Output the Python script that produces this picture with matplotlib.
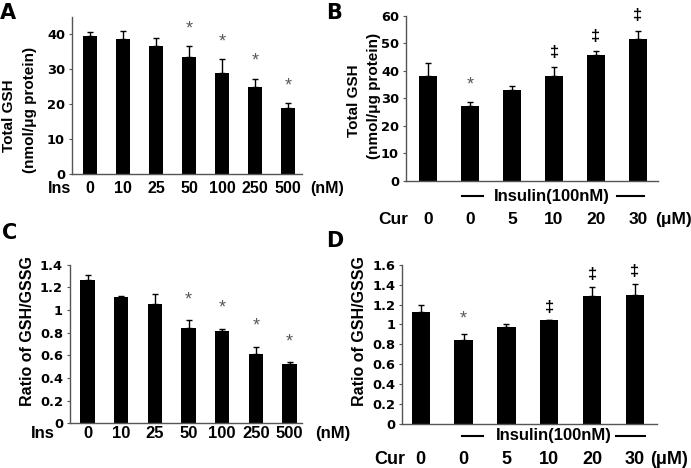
import matplotlib
matplotlib.use('Agg')
import matplotlib.pyplot as plt
import matplotlib.transforms as mtransforms
import numpy as np

# ---------------- data ----------------
a_labels = ['0', '10', '25', '50', '100', '250', '500']
a_mean = [39.6, 38.7, 36.7, 33.5, 29.0, 24.9, 19.0]
a_top = [40.7, 41.1, 38.9, 36.7, 32.9, 27.4, 20.3]
a_sig = ['', '', '', '*', '*', '*', '*']

b_labels = ['0', '0', '5', '10', '20', '30']
b_mean = [38.1, 27.1, 33.1, 38.1, 45.8, 51.4]
b_top = [42.7, 28.7, 34.6, 41.5, 47.3, 54.6]
b_sig = ['', '*', '', '\u2021', '\u2021', '\u2021']

c_labels = ['0', '10', '25', '50', '100', '250', '500']
c_mean = [1.262, 1.115, 1.056, 0.841, 0.812, 0.609, 0.526]
c_top = [1.309, 1.126, 1.144, 0.909, 0.832, 0.671, 0.538]
c_sig = ['', '', '', '*', '*', '*', '*']

d_labels = ['0', '0', '5', '10', '20', '30']
d_mean = [1.121, 0.844, 0.977, 1.041, 1.285, 1.299]
d_top = [1.198, 0.904, 1.001, 1.048, 1.372, 1.406]
d_sig = ['', '*', '', '\u2021', '\u2021', '\u2021']

ab_yticks = [0, 10, 20, 30, 40]
b_yticks = [0, 10, 20, 30, 40, 50, 60]
c_yticks = [0, 0.2, 0.4, 0.6, 0.8, 1.0, 1.2, 1.4]
d_yticks = [0, 0.2, 0.4, 0.6, 0.8, 1.0, 1.2, 1.4, 1.6]

ARIAL = 'Liberation Sans'
WIDE = 'DejaVu Sans'
AX_COL = '#555555'

fig = plt.figure(figsize=(6.91, 4.68), dpi=100)
W, H = 691.0, 468.0


def axes_px(left, right, top, bottom):
    return fig.add_axes([left / W, 1 - bottom / H, (right - left) / W, (bottom - top) / H])


def fmt(v):
    if abs(v - round(v)) < 1e-9:
        return str(int(round(v)))
    return ('%.1f' % v)


def panel(ax, means, tops, sigs, xlim, ylim, yticks, sig_off):
    x = np.arange(len(means))
    means = np.array(means)
    tops = np.array(tops)
    ax.bar(x, means, width=0.43, color='black', zorder=2)
    ax.errorbar(x, means, yerr=[np.zeros_like(means), tops - means], fmt='none',
                ecolor='black', elinewidth=1.0, capsize=2.2, capthick=1.0, zorder=3)
    for xi, t, s in zip(x, tops, sigs):
        if not s:
            continue
        if s == '*':
            ax.annotate(s, xy=(xi, t), xytext=(0, sig_off), textcoords='offset points',
                        ha='center', va='center', fontsize=13, color='#5a5a5a',
                        fontfamily=ARIAL, annotation_clip=False)
        else:
            ax.annotate(s, xy=(xi, t), xytext=(0, sig_off - 2), textcoords='offset points',
                        ha='center', va='center', fontsize=12, fontweight='bold',
                        color='black', fontfamily=ARIAL, annotation_clip=False)
    ax.set_xlim(*xlim)
    ax.set_ylim(*ylim)
    ax.set_yticks(yticks)
    ax.set_yticklabels([fmt(v) for v in yticks], fontfamily=WIDE, fontweight='bold', fontsize=9.4)
    ax.set_xticks([])
    for s in ['top', 'right']:
        ax.spines[s].set_visible(False)
    for s in ['left', 'bottom']:
        ax.spines[s].set_color(AX_COL)
        ax.spines[s].set_linewidth(1.0)
    ax.tick_params(axis='y', direction='out', length=2.5, width=0.8, color=AX_COL, pad=2.5)


def row_text(ax, xpos, s, dy, size):
    ax.annotate(s, xy=(xpos, 0), xycoords=('data', 'axes fraction'), xytext=(0, dy),
                textcoords='offset points', ha='center', va='center', fontsize=size,
                fontweight='bold', fontfamily=ARIAL, annotation_clip=False)


def insulin_row(ax, seg1, seg2, xtext, dy, size):
    tr = mtransforms.offset_copy(ax.get_xaxis_transform(), fig=fig, y=dy, units='points')
    ax.plot(seg1, [0, 0], color='black', lw=1.5, transform=tr, clip_on=False)
    ax.plot(seg2, [0, 0], color='black', lw=1.5, transform=tr, clip_on=False)
    row_text(ax, xtext, 'Insulin(100nM)', dy, size)


# Panel A
axA = axes_px(72, 302, 17, 174.3)
panel(axA, a_mean, a_top, a_sig, (-0.545, 6.42), (0, 45), ab_yticks, 12.5)
for i, lab in enumerate(a_labels):
    row_text(axA, i, lab, -10.2, 11.5)
row_text(axA, -0.91, 'Ins', -10.2, 11.5)
row_text(axA, 7.17, '(nM)', -10.2, 11.5)

# Panel B
axB = axes_px(406, 658, 15.7, 181)
panel(axB, b_mean, b_top, b_sig, (-0.53, 5.48), (0, 60), b_yticks, 12.5)
insulin_row(axB, [0.80, 1.31], [4.50, 5.15], 2.94, -10.8, 12)
for i, lab in enumerate(b_labels):
    row_text(axB, i, lab, -28, 12.5)
row_text(axB, -0.84, 'Cur', -28, 12.5)
row_text(axB, 5.84, '(\u03bcM)', -28, 12.5)

# Panel C
axC = axes_px(70, 302, 264.7, 423.3)
panel(axC, c_mean, c_top, c_sig, (-0.52, 6.37), (0, 1.4), c_yticks, 15)
for i, lab in enumerate(c_labels):
    row_text(axC, i, lab, -7.2, 12)
row_text(axC, -1.34, 'Ins', -7.2, 12)
row_text(axC, 7.28, '(nM)', -7.2, 12)

# Panel D
axD = axes_px(402.3, 656.7, 264.7, 424)
panel(axD, d_mean, d_top, d_sig, (-0.43, 5.51), (0, 1.6), d_yticks, 11)
insulin_row(axD, [0.96, 1.46], [4.57, 5.23], 3.11, -8.4, 12)
for i, lab in enumerate(d_labels):
    row_text(axD, i, lab, -25.2, 13)
row_text(axD, -0.72, 'Cur', -25.2, 13)
row_text(axD, 5.79, '(\u03bcM)', -25.2, 13)

# y labels
def ylab(xpx, ypx, s, size=11):
    fig.text(xpx / W, 1 - ypx / H, s, rotation=90, ha='center', va='center',
             fontsize=size, fontweight='bold', fontfamily=ARIAL)

ylab(9, 116, 'Total GSH')
ylab(30, 110, '(nmol/\u03bcg protein)')
ylab(354, 101, 'Total GSH')
ylab(374, 96, '(nmol/\u03bcg protein)')
ylab(28, 331.5, 'Ratio of GSH/GSSG', 11.5)
ylab(360, 331.5, 'Ratio of GSH/GSSG', 11.5)

# panel letters
def letter(xpx, ypx, s):
    fig.text(xpx / W, 1 - ypx / H, s, ha='left', va='top', fontsize=15,
             fontweight='bold', fontfamily=WIDE)

letter(0, 3, 'A')
letter(326, 3, 'B')
letter(2, 223, 'C')
letter(326, 231, 'D')

fig.savefig('out.png', dpi=100)
